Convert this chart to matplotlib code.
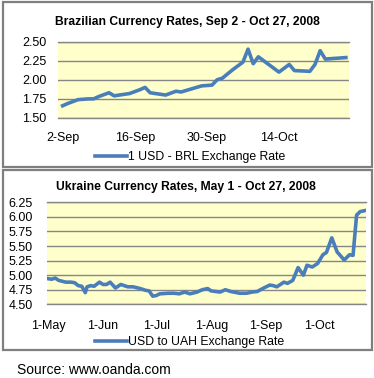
import datetime as dt
import matplotlib
matplotlib.use("Agg")
import matplotlib.pyplot as plt
import matplotlib.dates as mdates
from matplotlib.patches import Rectangle

plt.rcParams['font.family'] = ['Liberation Sans', 'DejaVu Sans']

# Brazil: days after 2 Sep 2008, USD->BRL rate
brl_start = dt.datetime(2008, 9, 2)
brl_days = [0, 1, 3, 5, 6, 7, 9, 10, 11, 13, 15, 16, 17, 20, 22, 23, 25, 27, 29, 30,
            31, 33, 35, 36, 37, 38, 42, 44, 45, 48, 49, 50, 51, 55]
brl_rate = [1.66, 1.69, 1.74, 1.75, 1.75, 1.78, 1.83, 1.79, 1.80, 1.82, 1.87, 1.90,
            1.83, 1.80, 1.85, 1.84, 1.88, 1.92, 1.93, 2.00, 2.02, 2.13, 2.23, 2.40,
            2.21, 2.30, 2.10, 2.20, 2.12, 2.11, 2.20, 2.38, 2.27, 2.29]
brl_ticks = ['2008-09-02', '2008-09-16', '2008-09-30', '2008-10-14']

# Ukraine: days after 1 May 2008, USD->UAH rate
uah_start = dt.datetime(2008, 5, 1)
uah_days = [0, 2, 4, 6, 10, 13, 15, 17, 19, 21, 22, 24, 26, 29, 31, 33, 35, 38, 41, 45,
            48, 52, 55, 57, 59, 61, 63, 68, 71, 74, 77, 80, 84, 87, 90, 92, 97, 100,
            103, 108, 112, 115, 118, 121, 125, 127, 129, 133, 135, 138, 141, 144, 146,
            149, 152, 155, 157, 160, 163, 167, 170, 172, 173, 174, 176, 179]
uah_rate = [4.94, 4.93, 4.95, 4.91, 4.88, 4.88, 4.87, 4.82, 4.81, 4.70, 4.80, 4.82,
            4.81, 4.88, 4.84, 4.84, 4.88, 4.78, 4.84, 4.80, 4.80, 4.77, 4.74, 4.73,
            4.64, 4.65, 4.68, 4.69, 4.69, 4.68, 4.71, 4.68, 4.71, 4.75, 4.77, 4.73,
            4.71, 4.75, 4.72, 4.69, 4.69, 4.71, 4.72, 4.77, 4.83, 4.82, 4.80, 4.88,
            4.86, 4.91, 5.13, 5.00, 5.17, 5.14, 5.20, 5.35, 5.39, 5.64, 5.40, 5.26,
            5.35, 5.34, 5.69, 6.03, 6.09, 6.11]
uah_ticks = ['2008-05-01', '2008-06-01', '2008-07-01', '2008-08-01', '2008-09-01', '2008-10-01']

blue = '#4A7EBB'
fsize = 9

W, H = 374, 378
fig = plt.figure(figsize=(W / 100, H / 100), dpi=100)

def fx(px):
    return px / W

def fy(py):
    return 1 - py / H

# panel frames
for top, bot in [(2, 167), (170, 350)]:
    fig.patches.append(Rectangle((fx(2.5), fy(bot)), fx(369), fy(top) - fy(bot),
                                 transform=fig.transFigure, fill=False,
                                 edgecolor='#7f7f7f', lw=1.6))

def style(ax, ylo, yhi, ticks, fmt, ypad, xpad):
    ax.set_facecolor('#FFFFCC')
    ax.set_ylim(ylo, yhi)
    yt = [ylo + 0.25 * i for i in range(int(round((yhi - ylo) / 0.25)) + 1)]
    ax.set_yticks(yt)
    ax.set_yticklabels(['%.2f' % v for v in yt])
    ax.set_xticks([mdates.datestr2num(t) for t in ticks])
    ax.xaxis.set_major_formatter(mdates.DateFormatter(fmt))
    ax.grid(axis='y', color='#868686', lw=1)
    ax.set_axisbelow(True)
    for s in ['left', 'right']:
        ax.spines[s].set_visible(False)
    for s in ['top', 'bottom']:
        ax.spines[s].set_color('#868686')
        ax.spines[s].set_linewidth(1)
    ax.tick_params(axis='y', length=0, pad=ypad, labelsize=fsize)
    ax.tick_params(axis='x', length=0, pad=xpad, labelsize=fsize)

# top chart
ax1 = fig.add_axes([fx(58), fy(118), fx(349 - 58), (118 - 41.5) / H])
brl_x = [brl_start + dt.timedelta(days=d) for d in brl_days]
ax1.plot(brl_x, brl_rate, color=blue, lw=2.6, solid_joinstyle='round',
         label='1 USD - BRL Exchange Rate')
ax1.set_xlim(brl_start - dt.timedelta(days=0.9), brl_start + dt.timedelta(days=55.6))
style(ax1, 1.5, 2.5, brl_ticks, '%-d-%b', 8.5, 10)
ax1.legend(loc='center', bbox_to_anchor=(fx(190), fy(157)), bbox_transform=fig.transFigure,
           frameon=False, fontsize=8.8, handlelength=2.6, handletextpad=0.1,
           borderpad=0, borderaxespad=0)
fig.text(fx(187), fy(22), 'Brazilian Currency Rates, Sep 2 - Oct 27, 2008',
         ha='center', va='center', fontsize=8.75, fontweight='bold')

# bottom chart
ax2 = fig.add_axes([fx(47), fy(304.3), fx(366 - 47), 102 / H])
uah_x = [uah_start + dt.timedelta(days=d) for d in uah_days]
ax2.plot(uah_x, uah_rate, color=blue, lw=2.6, solid_joinstyle='round',
         label='USD to UAH Exchange Rate')
ax2.set_xlim(uah_start - dt.timedelta(days=0.6), uah_start + dt.timedelta(days=179.3))
style(ax2, 4.5, 6.25, uah_ticks, '%-d-%b', 10, 11)
ax2.legend(loc='center', bbox_to_anchor=(fx(189.5), fy(342)), bbox_transform=fig.transFigure,
           frameon=False, fontsize=8.8, handlelength=2.6, handletextpad=0.1,
           borderpad=0, borderaxespad=0)
fig.text(fx(186), fy(187), 'Ukraine Currency Rates, May 1 - Oct 27, 2008',
         ha='center', va='center', fontsize=8.7, fontweight='bold')

fig.text(fx(17), fy(370), 'Source: www.oanda.com', ha='left', va='center', fontsize=10)

fig.savefig('out.png', dpi=100, facecolor='white')
